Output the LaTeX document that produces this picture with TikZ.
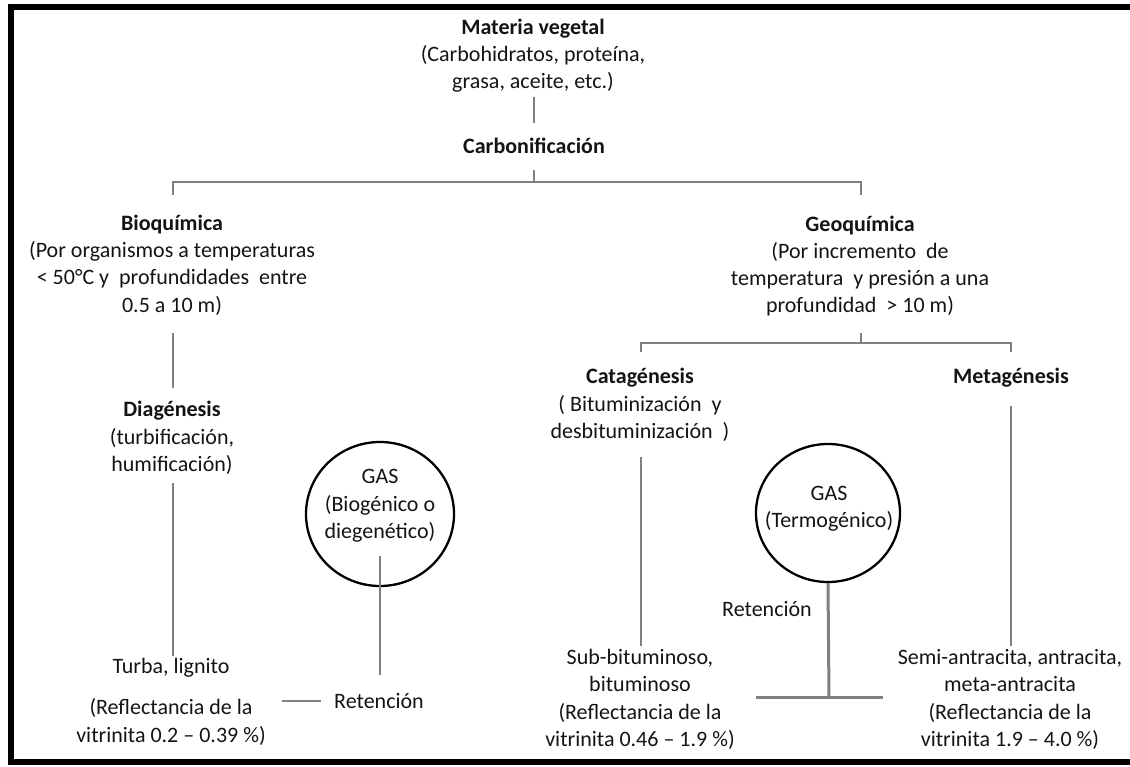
\documentclass[tikz,border=0pt]{standalone}
\usepackage{fontspec}
\setmainfont{Carlito}
\usetikzlibrary{shapes.geometric}
\definecolor{linegray}{RGB}{128,128,128}
\definecolor{txt}{RGB}{20,20,20}
\begin{document}
\begin{tikzpicture}[x=1pt,y=-1pt,
  every node/.style={font=\fontsize{22}{27.3}\selectfont, inner sep=0pt, align=center, text=txt},
  conn/.style={draw=linegray, line width=1.5pt},
  thickconn/.style={draw=linegray, line width=3pt},
  gasshape/.style={ellipse, draw=black, line width=2.3pt},
  frame/.style={draw=black, line width=6pt}]
\useasboundingbox (0,0) rectangle (1130,766);
% frame (left, top, bottom)
\draw[frame] (1130,7) -| (11,762) -- (1130,762);

% text nodes
\node (mat) at (533,55.5) {\textbf{Materia vegetal}\\(Carbohidratos, proteína,\\grasa, aceite, etc.)};
\node (carb) at (534,146) {\textbf{Carbonificación}};
\node (bio) at (172,265) {\textbf{Bioquímica}\\(Por organismos a temperaturas\\< 50°C y\ \ profundidades\ \ entre\\0.5 a 10 m)};
\node (geo) at (860,266) {\textbf{Geoquímica}\\(Por incremento\ \ de\\temperatura\ \ y presión a una\\profundidad\ \ > 10 m)};
\node (dia) at (172,438) {\textbf{Diagénesis}\\(turbificación,\\humificación)};
\node (cat) at (640,405) {\textbf{Catagénesis}\\( Bituminización\ \ y\\desbituminización\ \ )};
\node (meta) at (1011,378) {\textbf{Metagénesis}};
\node (turba) at (171,668) {Turba, lignito};
\node (refl1) at (171,722) {(Reflectancia de la\\vitrinita 0.2 – 0.39 \%)};
\node (ret1) at (379,701) {Retención};
\node (sub) at (640,699.5) {Sub-bituminoso,\\bituminoso\\(Reflectancia de la\\vitrinita 0.46 – 1.9 \%)};
\node (semi) at (1010,699.5) {Semi-antracita,\ antracita,\\meta-antracita\\(Reflectancia de la\\vitrinita 1.9 – 4.0 \%)};
\node (ret2) at (767,609) {Retención};

% gas ellipses
\node[gasshape, minimum width=148pt, minimum height=144pt] (gas1) at (380,514) {};
\node (gas1t) at (380,506) {GAS\\(Biogénico o\\diegenético)};
\node[gasshape, minimum width=144pt, minimum height=138pt] (gas2) at (828,513) {};
\node (gas2t) at (829,508.5) {GAS\\(Termogénico)};

% connector end points
\coordinate (matB) at (534,97);
\coordinate (carbT) at (534,123);
\coordinate (carbB) at (534,170);
\coordinate (split1) at (534,182);
\coordinate (bioT) at (173,195);
\coordinate (geoT) at (861,195);
\coordinate (bioB) at (173,333);
\coordinate (diaT) at (173,388);
\coordinate (diaB) at (173,483);
\coordinate (turbaT) at (173,656);
\coordinate (geoB) at (861,333);
\coordinate (split2) at (861,343);
\coordinate (catT) at (641,352);
\coordinate (metaT) at (1011,352);
\coordinate (catB) at (641,457);
\coordinate (subT) at (641,646);
\coordinate (metaB) at (1011,406);
\coordinate (semiT) at (1011,646);
\coordinate (gas1in) at (380,556);
\coordinate (gas1B) at (380,675);
\coordinate (ret1L) at (282,701);
\coordinate (ret1R) at (321,701);
\coordinate (gas2foot) at (829,697);
\coordinate (footL) at (756,697);
\coordinate (footR) at (883,697);

% connectors
\draw[conn] (matB) -- (carbT);
\draw[conn] (carbB) -- (split1);
\draw[conn] (bioT) |- (split1) -| (geoT);
\draw[conn] (bioB) -- (diaT);
\draw[conn] (diaB) -- (turbaT);
\draw[conn] (geoB) -- (split2);
\draw[conn] (catT) |- (split2) -| (metaT);
\draw[conn] (catB) -- (subT);
\draw[conn] (metaB) -- (semiT);
\draw[conn] (gas1in) -- (gas1B);
\draw[conn] (ret1L) -- (ret1R);
\draw[thickconn] (gas2.south) -- (gas2foot);
\draw[thickconn] (footL) -- (footR);
\end{tikzpicture}
\end{document}
